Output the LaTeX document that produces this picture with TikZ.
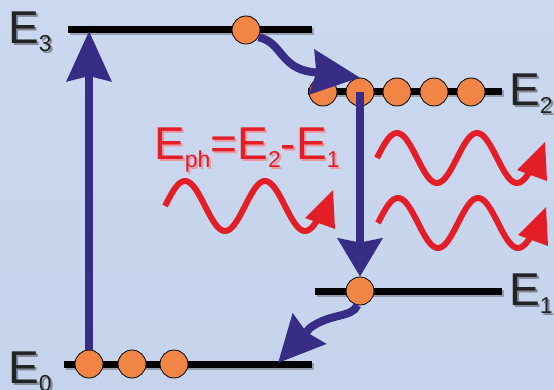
\documentclass[tikz,border=0pt]{standalone}
\usepackage{fontspec}
\setmainfont{Liberation Sans}
\usetikzlibrary{arrows.meta}
\definecolor{bgtop}{RGB}{203,216,239}
\definecolor{bgbot}{RGB}{197,211,236}
\definecolor{navy}{RGB}{56,45,134}
\definecolor{wred}{RGB}{228,30,38}
\definecolor{wredshadow}{RGB}{236,150,160}
\definecolor{eorange}{RGB}{240,133,70}
\definecolor{lvlshadow}{RGB}{130,135,150}
\definecolor{txtdark}{RGB}{35,35,35}
\newcommand{\sbs}[1]{\raisebox{-8pt}{\fontsize{23}{23}\selectfont #1}}
\newcommand{\shtext}[2]{\makebox[0pt][l]{\hspace{2pt}\raisebox{-2pt}{\color{#1}#2}}#2}
\newcommand{\photonwave}[2]{%
  \draw[wave] plot[domain=0:156, samples=90, smooth] ({#1+\x}, {#2-25*sin(4.5*\x)});
  \fill[wred] (#1+168,#2-16) -- (#1+140,#2+12) -- (#1+170,#2+23) -- cycle;}
\tikzset{
  level/.style={line width=7pt, black},
  lvlshade/.style={line width=7pt, lvlshadow, opacity=0.7},
  electron/.style={circle, fill=eorange, draw=black, line width=0.8pt, minimum size=28pt, inner sep=0pt},
  navyarrow/.style={navy, line width=8pt},
  wave/.style={wred, line width=6pt, line cap=butt},
  lbl/.style={inner sep=0pt, anchor=base west, font=\fontsize{46}{46}\selectfont},
}
\begin{document}
\begin{tikzpicture}[x=1pt, y=-1pt]
\fill[top color=bgtop, bottom color=bgbot] (0,0) rectangle (554,390);
\useasboundingbox (0,0) rectangle (554,390);

% level shadows
\draw[lvlshade] (70,32) -- (314,32);
\draw[lvlshade] (310,94) -- (504,94);
\draw[lvlshade] (317,293) -- (504,293);
\draw[lvlshade] (66,366) -- (314,366);
% levels
\draw[level] (68,30) -- (312,30);
\draw[level] (308,92) -- (502,92);
\draw[level] (315,291) -- (502,291);
\draw[level] (64,364) -- (312,364);

% labels
\node[lbl, text=txtdark] (l3) at (8,44) {\shtext{lvlshadow}{E\sbs{3}}};
\node[lbl, text=txtdark] (l2) at (509,106) {\shtext{lvlshadow}{E\sbs{2}}};
\node[lbl, text=txtdark] (l1) at (509,305) {\shtext{lvlshadow}{E\sbs{1}}};
\node[lbl, text=txtdark] (l0) at (8,383) {\shtext{lvlshadow}{E\sbs{0}}};
\node[lbl, text=wred] (eq) at (154,160) {\shtext{wredshadow}{E\sbs{ph}=E\sbs{2}-E\sbs{1}}};

% photons
\photonwave{165}{206}
\photonwave{377}{158}
\photonwave{378}{223}

% electrons
\node[electron] (e3a) at (246,30) {};
\node[electron] (e2a) at (323,92) {};
\node[electron] (e2b) at (360,92) {};
\node[electron] (e2c) at (397,92) {};
\node[electron] (e2d) at (434,92) {};
\node[electron] (e2e) at (471,92) {};
\node[electron] (e1a) at (360,291) {};
\node[electron] (e0a) at (89,364) {};
\node[electron] (e0b) at (132,364) {};
\node[electron] (e0c) at (174,364) {};

\coordinate (p3) at (89,31);
\coordinate (t0) at (278,363);

% pump
\draw[navyarrow, -{Stealth[length=50pt, width=44pt, inset=5pt]}] (e0a.north) -- (p3);
% non-radiative E3 -> E2
\draw[navyarrow, -{Stealth[length=48pt, width=44pt, inset=4pt]}]
  (e3a.-30) .. controls (282,42) and (280,68) .. (312,72) -- (e2b.north);
% emission E2 -> E1
\draw[navyarrow, -{Stealth[length=38pt, width=44pt, inset=4pt]}] (e2b.center) -- (e1a.north);
% relaxation E1 -> E0
\draw[navyarrow, -{Stealth[length=46pt, width=44pt, inset=4pt]}]
  (e1a.-100) .. controls (352,318) and (330,313) .. (310,328) -- (t0);
\end{tikzpicture}
\end{document}
